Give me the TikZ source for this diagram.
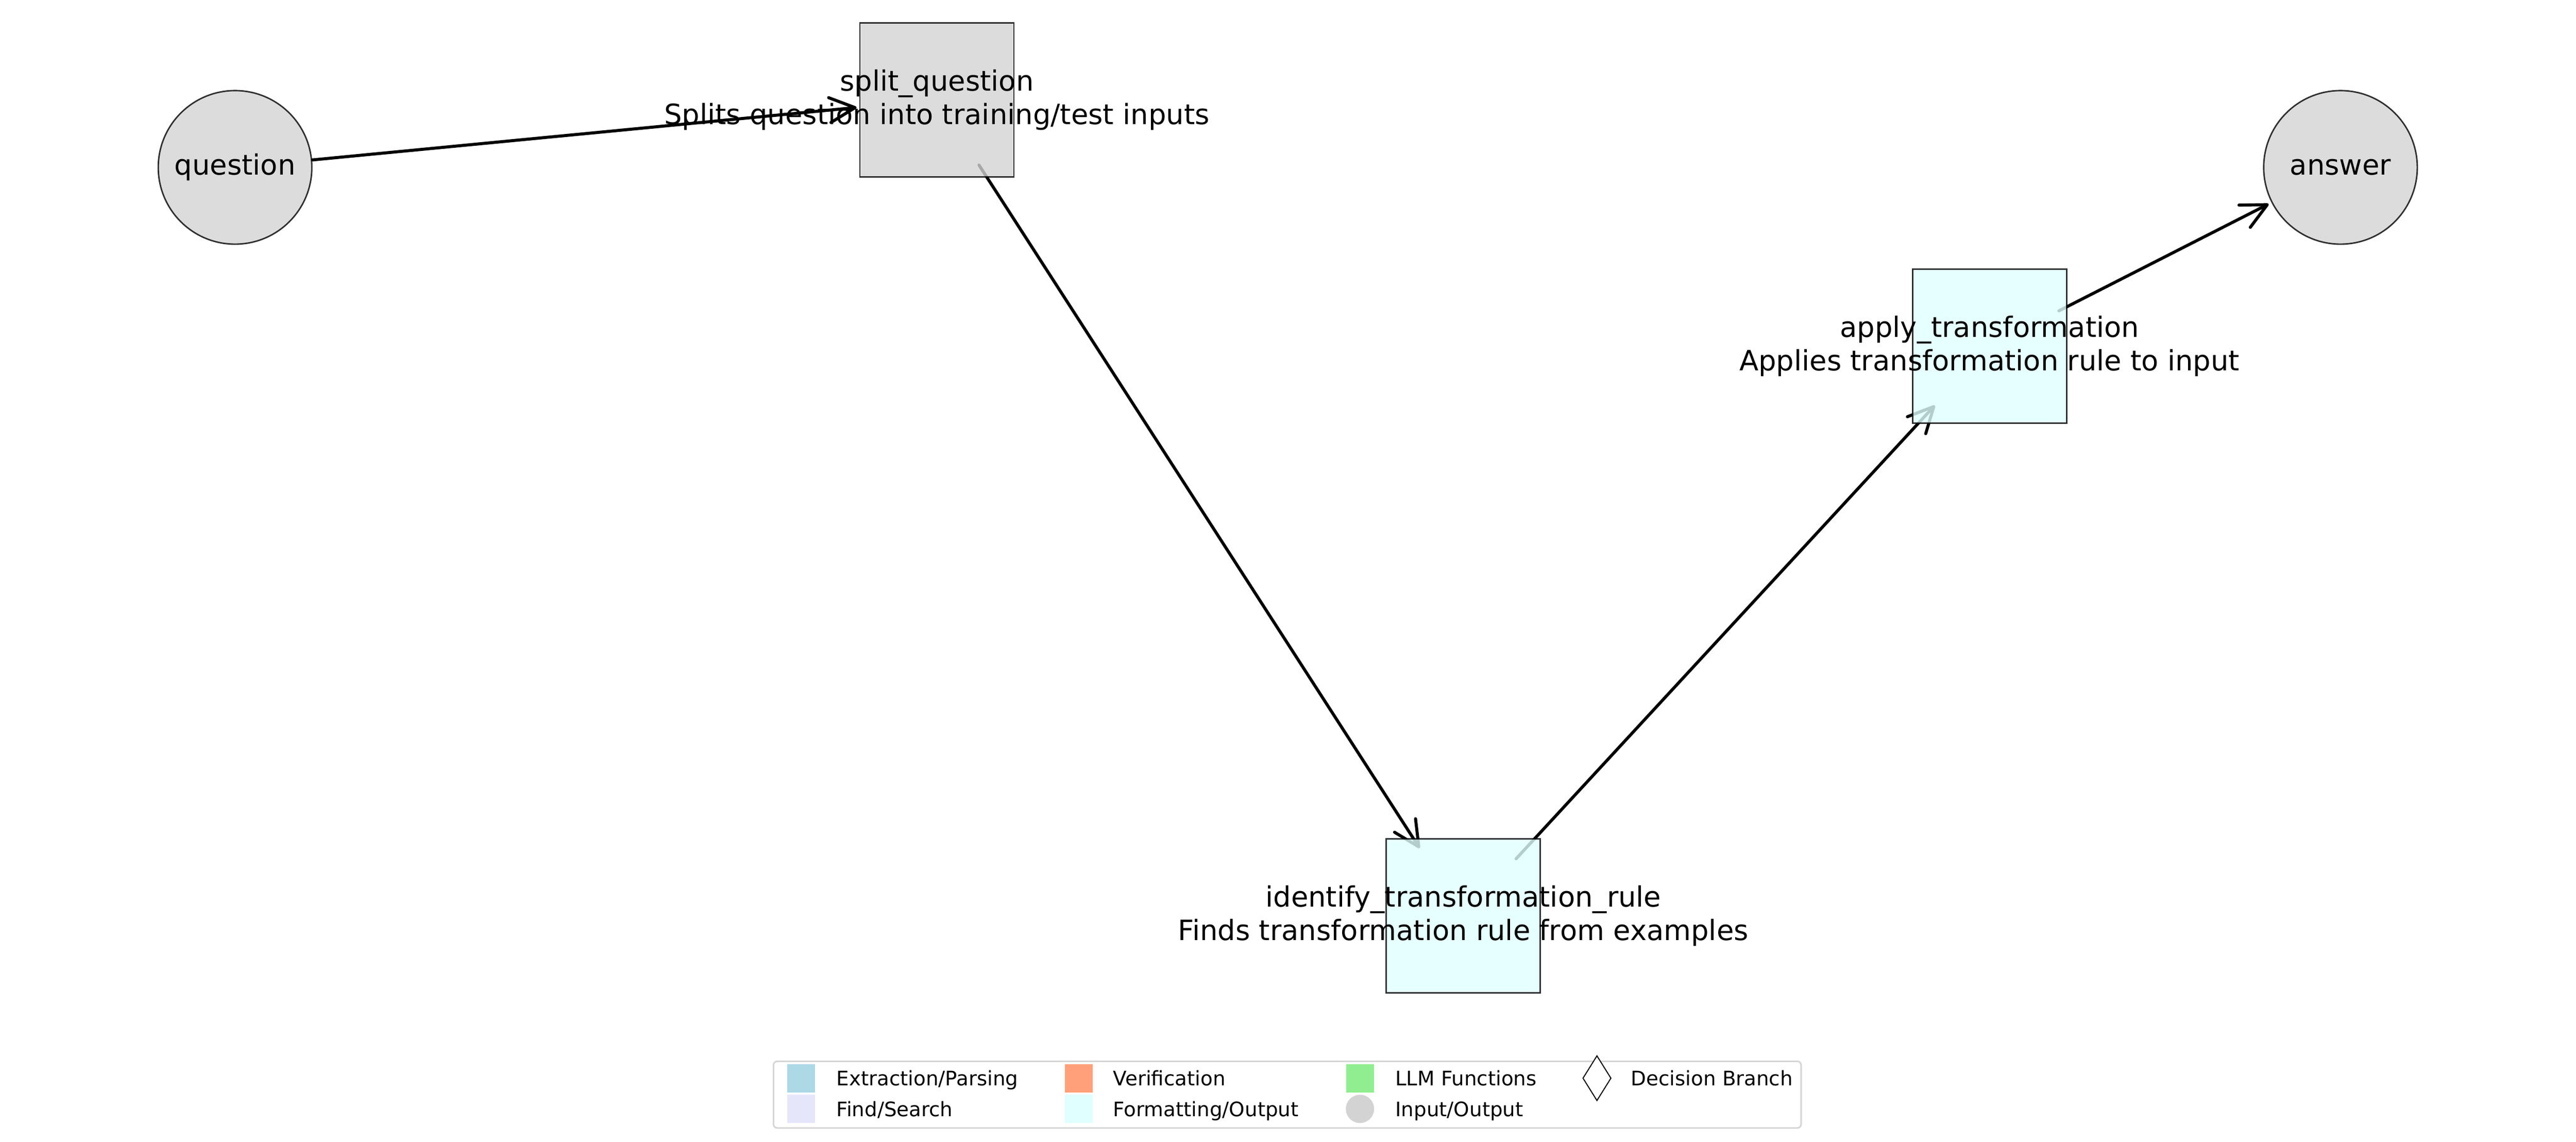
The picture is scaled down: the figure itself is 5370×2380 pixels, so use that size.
\documentclass[tikz,border=0pt]{standalone}
\usepackage{fontspec}
\setmainfont{DejaVu Sans}
\usetikzlibrary{arrows.meta,shapes.geometric}
\pgfdeclarelayer{bg}
\pgfsetlayers{bg,main}
\definecolor{nodegray}{HTML}{D3D3D3}
\definecolor{nodecyan}{HTML}{E0FFFF}
\definecolor{legblue}{HTML}{ADD8E6}
\definecolor{legsalmon}{HTML}{FFA07A}
\definecolor{leggreen}{HTML}{90EE90}
\definecolor{leglavender}{HTML}{E6E6FA}
\definecolor{legframe}{HTML}{D6D6D6}
\newcommand\mainfs{\fontsize{16.6pt}{19.92pt}\selectfont}
\newcommand\legfs{\fontsize{11.85pt}{14.22pt}\selectfont}
\begin{document}
\begin{tikzpicture}[x=0.01cm,y=-0.01cm,
  base/.style={draw=black, draw opacity=0.8, fill opacity=0.8, text opacity=1,
               line width=0.87pt, inner sep=0pt, font=\mainfs, text=black},
  io/.style={base, circle, fill=nodegray, minimum size=3.20cm},
  fnbox/.style={base, rectangle, minimum size=3.21cm},
  lbl/.style={font=\mainfs, align=center, text=black, inner sep=0pt, text opacity=1},
  flow/.style={line width=1.8pt, line cap=round, black,
               -{Straight Barb[length=0.53cm,width=0.52cm,round]},
               shorten <=1.62cm, shorten >=1.68cm},
  legpatch/.style={rectangle, draw=none, inner sep=0pt, minimum width=0.58cm, minimum height=0.585cm},
  legtext/.style={anchor=base west, inner sep=0pt, font=\legfs, text=black}
]
\useasboundingbox (0,0) rectangle (5370,2380);

% nodes
\node[io] (q) at (490,349) {question};
\node[fnbox, fill=nodegray,
      label={[lbl]center:{split\_question\\Splits question into training/test inputs}}]
      (split) at (1953,208) {};
\node[fnbox, fill=nodecyan,
      label={[lbl]center:{identify\_transformation\_rule\\Finds transformation rule from examples}}]
      (ident) at (3050.5,1909.6) {};
\node[fnbox, fill=nodecyan,
      label={[lbl]center:{apply\_transformation\\Applies transformation rule to input}}]
      (apply) at (4147.4,721.8) {};
\node[io] (ans) at (4879,349) {answer};

% edges (beneath the translucent nodes)
\begin{pgfonlayer}{bg}
\draw[flow] (q.center) -- (split.center);
\draw[flow] (split.center) -- (ident.center);
\draw[flow] (ident.center) -- (apply.center);
\draw[flow] (apply.center) -- (ans.center);
\end{pgfonlayer}

% legend
\node[draw=legframe, line width=0.95pt, fill=white, rounded corners=0.08cm,
      minimum width=21.41cm, minimum height=1.39cm, inner sep=0pt]
      (leg) at (2683.5,2282.3) {};
\node[legpatch, fill=legblue] (lp1) at (1670,2248.3) {};
\node[legpatch, fill=leglavender] (lp2) at (1670,2312) {};
\node[legpatch, fill=legsalmon] (lp3) at (2249,2248.3) {};
\node[legpatch, fill=nodecyan] (lp4) at (2249,2312) {};
\node[legpatch, fill=leggreen] (lp5) at (2835,2248.3) {};
\node[circle, fill=nodegray, draw=none, inner sep=0pt, minimum size=0.59cm] (lp6) at (2835,2312) {};
\node[diamond, draw=black, fill=white, line width=0.6pt, inner sep=0pt,
      minimum width=0.59cm, minimum height=0.94cm] (lp7) at (3329,2248) {};
\node[legtext] (lt1) at (1743,2263) {Extraction/Parsing};
\node[legtext] (lt2) at (1743,2328) {Find/Search};
\node[legtext] (lt3) at (2320,2263) {Verification};
\node[legtext] (lt4) at (2320,2328) {Formatting/Output};
\node[legtext] (lt5) at (2908,2263) {LLM Functions};
\node[legtext] (lt6) at (2908,2328) {Input/Output};
\node[legtext] (lt7) at (3399,2263) {Decision Branch};
\end{tikzpicture}
\end{document}
